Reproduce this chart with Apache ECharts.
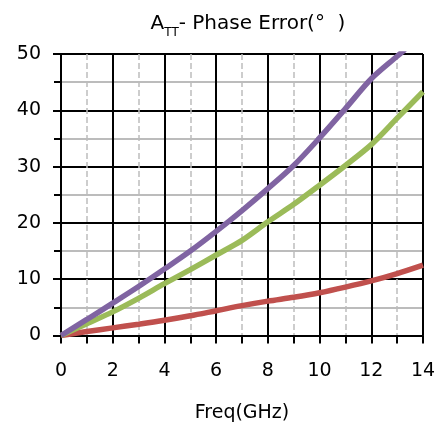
<!DOCTYPE html>
<html>
<head>
<meta charset="utf-8">
<script src="https://cdn.jsdelivr.net/npm/echarts@6/dist/echarts.min.js"></script>
<style>html,body{margin:0;padding:0;background:#fff}#c{width:446px;height:429px}</style>
</head>
<body>
<div id="c"></div>
<script>
var freqs = [0,1,2,3,4,5,6,7,8,9,10,11,12,13,14];
var purpleFreqs = [0,1,2,3,4,5,6,7,8,9,10,11,12,13,13.3];
var purpleVals = [0,2.85,5.75,8.7,11.8,15.0,18.5,22.2,26.1,30.2,35.1,40.3,45.6,49.6,50.8];
var greenVals = [0,2.1,4.2,6.6,9.2,11.7,14.3,16.9,20.2,23.3,26.7,30.2,33.9,38.6,43.3];
var redVals = [0,0.7,1.35,2.0,2.7,3.5,4.4,5.3,6.1,6.8,7.6,8.6,9.7,11.0,12.5];
var xTicks = [0,2,4,6,8,10,12,14];
var yTicks = [0,10,20,30,40,50];

function pairs(xs, ys){ return xs.map(function(x,i){ return [x, ys[i]]; }); }
var FONT = 'DejaVu Sans';
var chart = echarts.init(document.getElementById('c'));
chart.setOption({
  animation:false,
  title:{
    text:'{a|A}{s|TT}{a|- Phase Error(°  )}',
    left:243, textAlign:'center', top:9,
    textStyle:{ fontWeight:'normal', rich:{
      a:{fontFamily:FONT,fontSize:20,fontWeight:'normal',color:'#000'},
      s:{fontFamily:FONT,fontSize:12,fontWeight:'normal',color:'#000',verticalAlign:'bottom',padding:[0,0,-5,0]}
    }}
  },
  grid:{left:61,right:23,top:54,bottom:93.5,containLabel:false},
  xAxis:{
    type:'value',min:xTicks[0],max:xTicks[xTicks.length-1],interval:2,
    name:'Freq(GHz)',nameLocation:'middle',nameGap:68,
    nameTextStyle:{fontFamily:FONT,fontSize:19,color:'#000'},
    axisLine:{show:true,onZero:false,lineStyle:{color:'#000',width:2}},
    axisTick:{show:true,inside:false,length:8,lineStyle:{color:'#000',width:2}},
    minorTick:{show:true,splitNumber:2,length:8,lineStyle:{color:'#000',width:2}},
    axisLabel:{fontFamily:FONT,fontSize:19,color:'#000',margin:26},
    splitLine:{show:true,lineStyle:{color:'#000',width:2}},
    minorSplitLine:{show:true,lineStyle:{color:'#bdbdbd',width:1.5,type:'dashed'}}
  },
  yAxis:{
    type:'value',min:yTicks[0],max:yTicks[yTicks.length-1],interval:10,
    axisLine:{show:true,lineStyle:{color:'#000',width:2}},
    axisTick:{show:true,inside:false,length:8,lineStyle:{color:'#000',width:2}},
    minorTick:{show:true,splitNumber:2,length:7,lineStyle:{color:'#000',width:2}},
    axisLabel:{fontFamily:FONT,fontSize:19,color:'#000',margin:20},
    splitLine:{show:true,lineStyle:{color:'#000',width:2}},
    minorSplitLine:{show:true,lineStyle:{color:'#a6a6a6',width:1.5}}
  },
  series:[
    {type:'line',data:pairs(freqs,redVals),smooth:0.3,showSymbol:false,lineStyle:{color:'#C0504D',width:5.5},z:3},
    {type:'line',data:pairs(freqs,greenVals),smooth:0.3,showSymbol:false,lineStyle:{color:'#9BBB59',width:5.5},z:4},
    {type:'line',data:pairs(purpleFreqs,purpleVals),smooth:0.3,showSymbol:false,lineStyle:{color:'#8064A2',width:5.5},z:5}
  ]
});
</script>
</body>
</html>
